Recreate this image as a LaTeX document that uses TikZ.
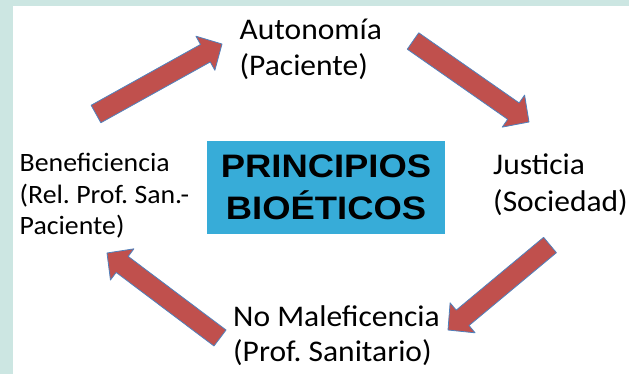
\documentclass[tikz,border=0pt]{standalone}
\usepackage{fontspec}
\setmainfont[FakeStretch=1.05]{Carlito}
\newfontfamily\titlefont[FakeStretch=1.12]{Liberation Sans}
\usetikzlibrary{calc}
\frenchspacing

\definecolor{bgteal}{RGB}{204,230,226}
\definecolor{boxblue}{RGB}{55,172,216}
\definecolor{arrowred}{RGB}{192,80,77}
\definecolor{arrowedge}{RGB}{79,129,189}

% block arrow from tail #1 to tip #2
\newcommand{\blockarrow}[2]{%
  \coordinate (neck) at ($(#2)!19pt!(#1)$);
  \draw[redarrow] ($(#1)!10pt!90:(#2)$) -- ($(neck)!10pt!90:(#2)$) -- ($(neck)!19.5pt!90:(#2)$) -- (#2)
    -- ($(neck)!19.5pt!-90:(#2)$) -- ($(neck)!10pt!-90:(#2)$) -- ($(#1)!10pt!-90:(#2)$) -- cycle;}

\begin{document}
\begin{tikzpicture}[x=1pt,y=-1pt,
  redarrow/.style={fill=arrowred,draw=arrowedge,line width=0.8pt,line join=round},
  principle/.style={inner sep=0pt,anchor=base west,align=left,font=\fontsize{30}{36}\selectfont},
  titlebox/.style={fill=boxblue,minimum width=238pt,minimum height=93pt,inner sep=0pt,align=center,
    font=\titlefont\bfseries\fontsize{32.5}{41.7}\selectfont}]

\useasboundingbox (0,0) rectangle (629,374);
% Background
\fill[bgteal] (0,0) rectangle (629,374);
\fill[white] (13,6) rectangle (629,374);

% Central box
\node[titlebox] (title) at (326,187.5) {PRINCIPIOS\\BIOÉTICOS};

% The four principles (placed at the baseline of the last line)
\node[principle] (auto) at (239.5,76) {Autonomía\\(Paciente)};
\node[principle,font=\fontsize{30}{36.5}\selectfont] (just) at (493,211.5) {Justicia\\(Sociedad)};
\node[principle,font=\fontsize{30}{35}\selectfont] (nomal) at (233,361.7) {No Maleficencia\\(Prof. Sanitario)};
\node[principle,font=\fontsize{26.5}{31.6}\selectfont] (benef) at (19.5,234.9) {Beneficiencia\\(Rel. Prof. San.-\\Paciente)};

% Arrows round the cycle
\coordinate (t1) at (96,114);  \coordinate (h1) at (222,44);
\coordinate (t2) at (413,41);  \coordinate (h2) at (529,122);
\coordinate (t3) at (550,245); \coordinate (h3) at (448,330);
\coordinate (t4) at (220,338); \coordinate (h4) at (107,253);
\blockarrow{t1}{h1}
\blockarrow{t2}{h2}
\blockarrow{t3}{h3}
\blockarrow{t4}{h4}

\end{tikzpicture}
\end{document}
